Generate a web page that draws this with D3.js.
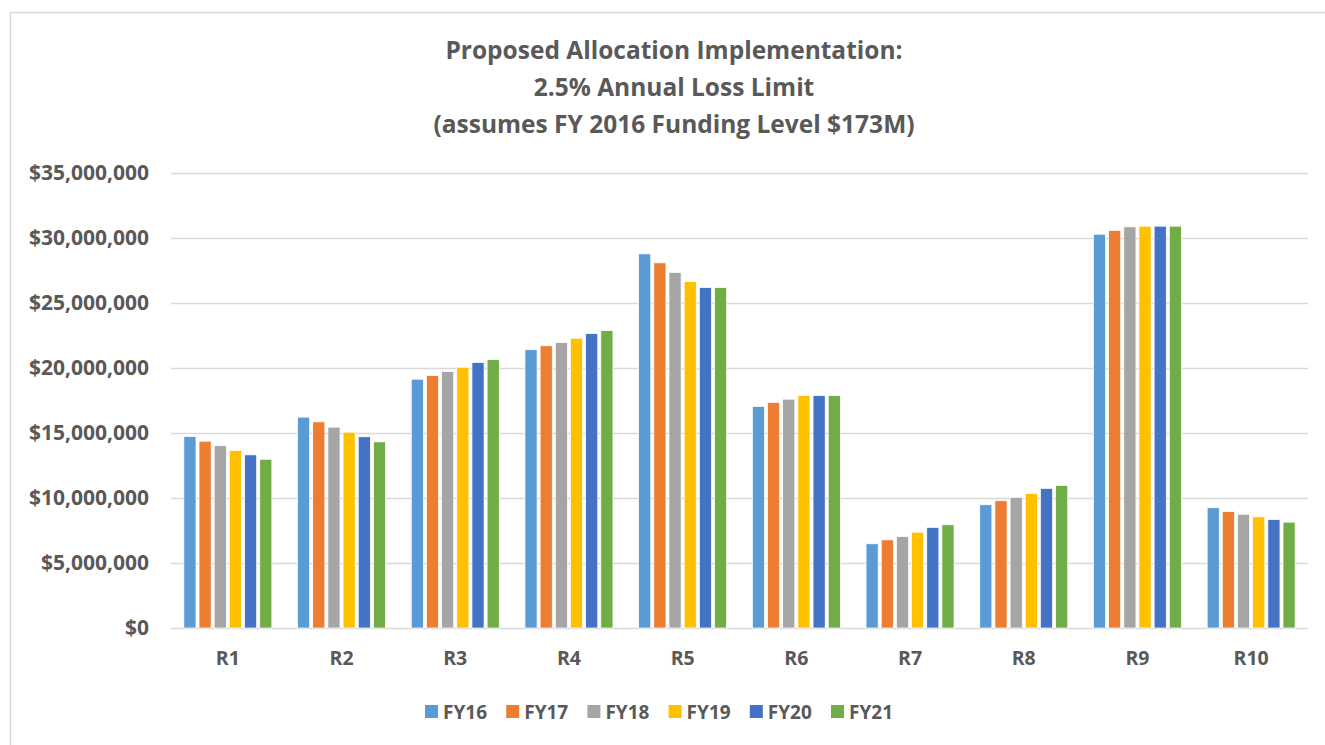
<!DOCTYPE html>
<html lang="en">
<head>
<meta charset="UTF-8">
<title>Proposed Allocation Implementation</title>
<script src="https://d3js.org/d3.v7.min.js"></script>
<style>
    body { margin: 0; background: #fff; font-family: 'Open Sans', sans-serif; }
    .tick-label, .cat-label, .legend-label { fill: #595959; font-weight: bold; font-family: 'Open Sans', sans-serif; }
    .title { fill: #595959; font-weight: bold; font-size: 24.5px; }
</style>
</head>
<body>
<svg id="chart" width="1325" height="745"></svg>
<script>
    // regions and fiscal years
    var regions = ["R1", "R2", "R3", "R4", "R5", "R6", "R7", "R8", "R9", "R10"];
    var years = ["FY16", "FY17", "FY18", "FY19", "FY20", "FY21"];
    var colors = ["#5B9BD5", "#ED7D31", "#A5A5A5", "#FFC000", "#4472C4", "#70AD47"];

    // allocation per region, in $ millions
    var fy16 = [14.73, 16.22, 19.14, 21.41, 28.78, 17.04, 6.48, 9.48, 30.29, 9.25];
    var fy17 = [14.37, 15.86, 19.42, 21.71, 28.09, 17.35, 6.78, 9.79, 30.58, 8.96];
    var fy18 = [14.02, 15.45, 19.73, 21.97, 27.35, 17.60, 7.04, 10.05, 30.86, 8.75];
    var fy19 = [13.65, 15.06, 20.06, 22.29, 26.65, 17.88, 7.37, 10.35, 30.91, 8.55];
    var fy20 = [13.32, 14.71, 20.42, 22.65, 26.19, 17.88, 7.74, 10.74, 30.91, 8.34];
    var fy21 = [12.98, 14.32, 20.65, 22.88, 26.19, 17.88, 7.94, 10.97, 30.91, 8.14];
    var series = [fy16, fy17, fy18, fy19, fy20, fy21];

    var yTicks = [0, 5, 10, 15, 20, 25, 30, 35];
    var titleLines = ["Proposed Allocation Implementation:", "2.5% Annual Loss Limit", "(assumes FY 2016 Funding Level $173M)"];

    var svg = d3.select("#chart");
    var margin = {top: 173, right: 17, bottom: 117, left: 171};
    var width = 1325 - margin.left - margin.right,
        height = 745 - margin.top - margin.bottom;

    // chart border
    svg.append("rect").attr("x", 10.5).attr("y", 12.5).attr("width", 1340).attr("height", 760)
        .attr("fill", "none").attr("stroke", "#d9d9d9").attr("stroke-width", 1.5);

    var title = svg.append("text").attr("class", "title").attr("text-anchor", "middle");
    titleLines.forEach(function(t, i) {
        title.append("tspan").attr("x", 674).attr("y", 59 + i * 37).text(t);
    });

    var g = svg.append("g").attr("transform", "translate(" + margin.left + "," + margin.top + ")");

    var x0 = d3.scaleBand().domain(regions).range([0, width]).paddingInner(0.226).paddingOuter(0.113);
    var x1 = d3.scaleBand().domain(years).range([0, x0.bandwidth()]).paddingInner(0.2);
    var y = d3.scaleLinear().domain([0, 35]).range([height, 0]);

    // gridlines and y labels
    var yAxis = d3.axisLeft(y).tickValues(yTicks).tickSize(-width).tickPadding(22)
        .tickFormat(function(d) { return "$" + d3.format(",")(d * 1000000); });
    var ya = g.append("g").call(yAxis);
    ya.select(".domain").remove();
    ya.selectAll("line").attr("stroke", "#d9d9d9").attr("stroke-width", 1.5);
    ya.selectAll("text").attr("class", "tick-label").style("font-size", "21px");

    // bars
    var groups = g.selectAll(".region").data(regions).enter().append("g")
        .attr("class", "region")
        .attr("transform", function(d) { return "translate(" + x0(d) + ",0)"; });
    groups.selectAll("rect").data(function(d, i) {
        return years.map(function(yr, j) { return {year: yr, idx: j, value: series[j][i]}; });
    }).enter().append("rect")
        .attr("x", function(d) { return x1(d.year); })
        .attr("y", function(d) { return y(d.value); })
        .attr("width", x1.bandwidth())
        .attr("height", function(d) { return height - y(d.value); })
        .attr("fill", function(d) { return colors[d.idx]; })
        .attr("stroke", "#fff").attr("stroke-width", 0.75);

    // category labels
    var xAxis = d3.axisBottom(x0).tickSize(0).tickPadding(23);
    var xa = g.append("g").attr("transform", "translate(0," + height + ")").call(xAxis);
    xa.select(".domain").remove();
    xa.selectAll("text").attr("class", "cat-label").style("font-size", "19.5px");

    // legend
    var legend = svg.append("g").attr("transform", "translate(425,705)");
    var items = legend.selectAll("g").data(years).enter().append("g")
        .attr("transform", function(d, i) { return "translate(" + (i * 81.2) + ",0)"; });
    items.append("rect").attr("width", 13).attr("height", 13)
        .attr("fill", function(d, i) { return colors[i]; });
    items.append("text").attr("class", "legend-label").attr("x", 18).attr("y", 14)
        .style("font-size", "19px").text(function(d) { return d; });
</script>
</body>
</html>
